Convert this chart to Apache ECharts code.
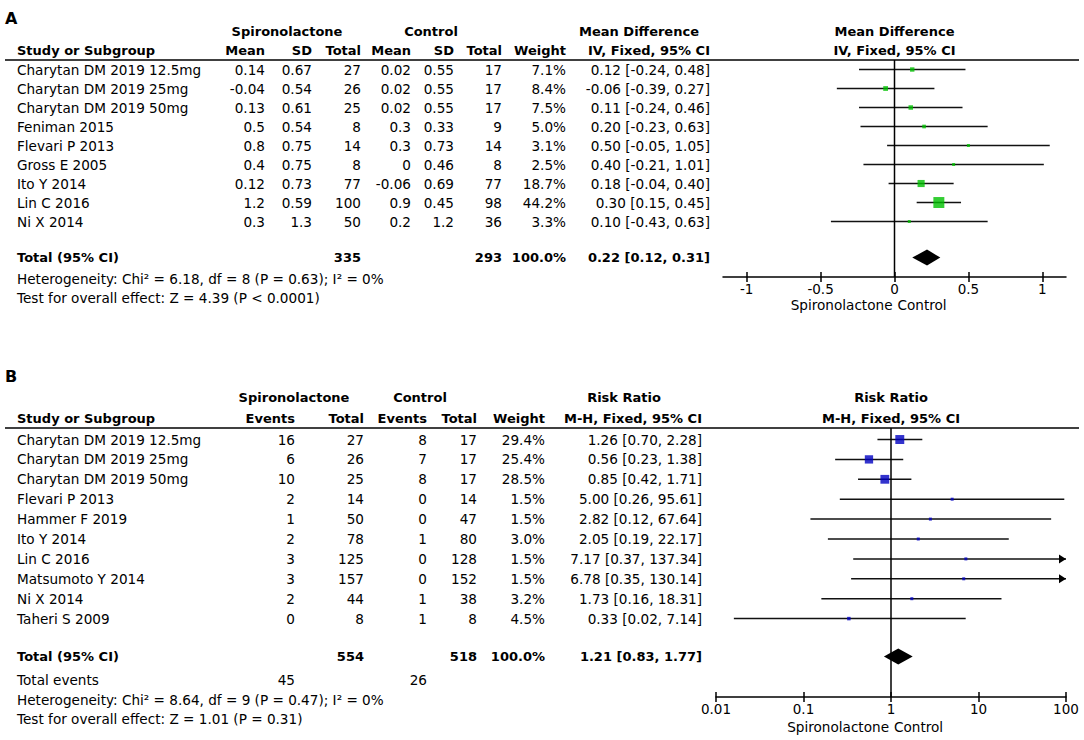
<!DOCTYPE html>
<html>
<head>
    <meta charset="utf-8" />
    <script src="https://cdn.jsdelivr.net/npm/echarts@6/dist/echarts.min.js"></script>
    <style type="text/css">
    html, body {
        margin: 0;
        padding: 0;
        background-color: #fff;
    }
    #chart {
        width: 1084px;
        height: 740px;
    }
    </style>
</head>
<body>
    <div id="chart"></div>
    <script type="text/javascript">
    // ---- panel A: mean difference ----
    let studiesA = ['Charytan DM 2019 12.5mg', 'Charytan DM 2019 25mg', 'Charytan DM 2019 50mg', 'Feniman 2015',
        'Flevari P 2013', 'Gross E 2005', 'Ito Y 2014', 'Lin C 2016', 'Ni X 2014'];
    let spMeanA = [0.14, -0.04, 0.13, 0.5, 0.8, 0.4, 0.12, 1.2, 0.3];
    let spSdA = [0.67, 0.54, 0.61, 0.54, 0.75, 0.75, 0.73, 0.59, 1.3];
    let spNA = [27, 26, 25, 8, 14, 8, 77, 100, 50];
    let ctMeanA = [0.02, 0.02, 0.02, 0.3, 0.3, 0, -0.06, 0.9, 0.2];
    let ctSdA = [0.55, 0.55, 0.55, 0.33, 0.73, 0.46, 0.69, 0.45, 1.2];
    let ctNA = [17, 17, 17, 9, 14, 8, 77, 98, 36];
    let weightA = [7.1, 8.4, 7.5, 5.0, 3.1, 2.5, 18.7, 44.2, 3.3];
    let mdA = [0.12, -0.06, 0.11, 0.20, 0.50, 0.40, 0.18, 0.30, 0.10];
    let loA = [-0.24, -0.39, -0.24, -0.23, -0.05, -0.21, -0.04, 0.15, -0.43];
    let hiA = [0.48, 0.27, 0.46, 0.63, 1.05, 1.01, 0.40, 0.45, 0.63];
    let totalA = [335, 293];
    let pooledA = [0.22, 0.12, 0.31];
    let ticksA = [-1, -0.5, 0, 0.5, 1];
    let hetA = 'Heterogeneity: Chi² = 6.18, df = 8 (P = 0.63); I² = 0%';
    let testA = 'Test for overall effect: Z = 4.39 (P < 0.0001)';

    // ---- panel B: risk ratio ----
    let studiesB = ['Charytan DM 2019 12.5mg', 'Charytan DM 2019 25mg', 'Charytan DM 2019 50mg', 'Flevari P 2013',
        'Hammer F 2019', 'Ito Y 2014', 'Lin C 2016', 'Matsumoto Y 2014', 'Ni X 2014', 'Taheri S 2009'];
    let spEvB = [16, 6, 10, 2, 1, 2, 3, 3, 2, 0];
    let spNB = [27, 26, 25, 14, 50, 78, 125, 157, 44, 8];
    let ctEvB = [8, 7, 8, 0, 0, 1, 0, 0, 1, 1];
    let ctNB = [17, 17, 17, 14, 47, 80, 128, 152, 38, 8];
    let weightB = [29.4, 25.4, 28.5, 1.5, 1.5, 3.0, 1.5, 1.5, 3.2, 4.5];
    let rrB = [1.26, 0.56, 0.85, 5.00, 2.82, 2.05, 7.17, 6.78, 1.73, 0.33];
    let loB = [0.70, 0.23, 0.42, 0.26, 0.12, 0.19, 0.37, 0.35, 0.16, 0.016];
    let hiB = [2.28, 1.38, 1.71, 95.61, 67.64, 22.17, 137.34, 130.14, 18.31, 7.14];
    let totalB = [554, 518];
    let eventsB = [45, 26];
    let pooledB = [1.21, 0.83, 1.77];
    let ticksB = [0.01, 0.1, 1, 10, 100];
    let hetB = 'Heterogeneity: Chi² = 8.64, df = 9 (P = 0.47); I² = 0%';
    let testB = 'Test for overall effect: Z = 1.01 (P = 0.31)';

    let FONT = '"DejaVu Sans", sans-serif';
    let xMaxA = 1.16, xMinA = -1.16;
    let xMaxB = 100, xMinB = 0.01;
    let totalRowA = studiesA.length + 0.9;
    let totalRowB = studiesB.length + 0.9;

    function fmtCI(e, l, h) {
        return e.toFixed(2) + ' [' + l.toFixed(2) + ', ' + h.toFixed(2) + ']';
    }
    function sqSize(w) {
        return Math.max(3, 1.65 * Math.sqrt(w));
    }

    // CI whiskers, clipped with arrow when beyond axis
    function ciRender(xmin, xmax) {
        return function (params, api) {
            let lo = api.value(0), hi = api.value(1), row = api.value(2);
            let p1 = api.coord([Math.max(lo, xmin), row]);
            let p2 = api.coord([Math.min(hi, xmax), row]);
            let children = [{
                type: 'line',
                shape: { x1: p1[0], y1: p1[1], x2: p2[0], y2: p2[1] },
                style: { stroke: '#111', lineWidth: 1.5 }
            }];
            if (hi > xmax) {
                children.push({
                    type: 'polygon',
                    shape: { points: [[p2[0], p2[1]], [p2[0] - 7, p2[1] - 4.5], [p2[0] - 7, p2[1] + 4.5]] },
                    style: { fill: '#000' }
                });
            }
            return { type: 'group', children: children };
        };
    }
    function diamondRender(params, api) {
        let row = api.value(3);
        let a = api.coord([api.value(0), row]);
        let m = api.coord([api.value(1), row]);
        let b = api.coord([api.value(2), row]);
        let h = 8;
        return {
            type: 'polygon',
            shape: { points: [[a[0], a[1]], [m[0], m[1] - h], [b[0], b[1]], [m[0], m[1] + h]] },
            style: { fill: '#000' }
        };
    }

    function tickFmt(v) {
        return String(Number(v.toPrecision(6)));
    }
    function mainAxis(grid, type, min, max, ticks) {
        let ax = {
            gridIndex: grid, type: type, min: min, max: max, position: 'bottom',
            axisLine: { show: true, onZero: false, lineStyle: { color: '#000', width: 1.5 } },
            axisTick: { show: true, length: 5, lineStyle: { color: '#000', width: 1.5 }, customValues: ticks },
            axisLabel: { show: true, color: '#000', fontSize: 13.5, fontFamily: FONT, margin: 5, customValues: ticks, formatter: tickFmt },
            splitLine: { show: false }
        };
        if (type === 'log') ax.logBase = 10;
        return ax;
    }
    function innerTickAxis(grid, type, min, max, ticks) {
        let ax = {
            gridIndex: grid, type: type, min: min, max: max, position: 'bottom', offset: 0,
            axisLine: { show: false, onZero: false },
            axisTick: { show: true, inside: true, length: 5, lineStyle: { color: '#000', width: 1.5 }, customValues: ticks },
            axisLabel: { show: false },
            splitLine: { show: false }
        };
        if (type === 'log') ax.logBase = 10;
        return ax;
    }

    let chart = echarts.init(document.getElementById('chart'), null, { renderer: 'svg' });

    let option = {
        animation: false,
        backgroundColor: '#fff',
        grid: [
            { left: 723, top: 60, width: 343, height: 217 },
            { left: 716, top: 428, width: 350, height: 269 }
        ],
        xAxis: [
            mainAxis(0, 'value', xMinA, xMaxA, ticksA),
            innerTickAxis(0, 'value', xMinA, xMaxA, ticksA),
            mainAxis(1, 'log', xMinB, xMaxB, ticksB),
            innerTickAxis(1, 'log', xMinB, xMaxB, ticksB)
        ],
        yAxis: [
            { gridIndex: 0, type: 'value', min: -0.5, max: 10.92, inverse: true, show: false },
            { gridIndex: 1, type: 'value', min: -0.578, max: 12.94, inverse: true, show: false }
        ],
        series: [
            {
                type: 'line', xAxisIndex: 0, yAxisIndex: 0, symbol: 'none', silent: true,
                lineStyle: { color: '#000', width: 1.5 },
                data: [[0, -0.5], [0, 10.92]]
            },
            {
                type: 'custom', xAxisIndex: 0, yAxisIndex: 0, silent: true, z: 3,
                renderItem: ciRender(xMinA, xMaxA),
                encode: { x: [0, 1], y: 2 },
                data: studiesA.map((s, i) => [loA[i], hiA[i], i])
            },
            {
                type: 'scatter', xAxisIndex: 0, yAxisIndex: 0, silent: true, z: 5,
                symbol: 'rect',
                symbolSize: v => sqSize(v[2]),
                itemStyle: { color: '#00c000' },
                data: studiesA.map((s, i) => [mdA[i], i, weightA[i]])
            },
            {
                type: 'custom', xAxisIndex: 0, yAxisIndex: 0, silent: true, z: 5,
                renderItem: diamondRender,
                encode: { x: [0, 1, 2], y: 3 },
                data: [[pooledA[1], pooledA[0], pooledA[2], totalRowA]]
            },
            {
                type: 'line', xAxisIndex: 2, yAxisIndex: 1, symbol: 'none', silent: true,
                lineStyle: { color: '#000', width: 1.5 },
                data: [[1, -0.578], [1, 12.94]]
            },
            {
                type: 'custom', xAxisIndex: 2, yAxisIndex: 1, silent: true, z: 3,
                renderItem: ciRender(xMinB, xMaxB),
                encode: { x: [0, 1], y: 2 },
                data: studiesB.map((s, i) => [loB[i], hiB[i], i])
            },
            {
                type: 'scatter', xAxisIndex: 2, yAxisIndex: 1, silent: true, z: 5,
                symbol: 'rect',
                symbolSize: v => sqSize(v[2]),
                itemStyle: { color: '#0000c0' },
                data: studiesB.map((s, i) => [rrB[i], i, weightB[i]])
            },
            {
                type: 'custom', xAxisIndex: 2, yAxisIndex: 1, silent: true, z: 5,
                renderItem: diamondRender,
                encode: { x: [0, 1, 2], y: 3 },
                data: [[pooledB[1], pooledB[0], pooledB[2], totalRowB]]
            }
        ]
    };
    chart.setOption(option);

    // ---- table text ----
    let els = [];
    function txt(s, x, y, align, bold, size) {
        els.push({
            type: 'text', x: x, y: y, silent: true,
            style: {
                text: String(s), fill: '#000',
                font: (bold ? 'bold ' : '') + (size || (bold ? 13 : 13.6)) + 'px ' + FONT,
                textAlign: align || 'left', textVerticalAlign: 'middle'
            }
        });
    }
    function rule(y) {
        els.push({
            type: 'line', silent: true,
            shape: { x1: 5, y1: y, x2: 1079, y2: y },
            style: { stroke: '#000', lineWidth: 1.5 }
        });
    }
    let rowA = i => chart.convertToPixel({ yAxisIndex: 0 }, i);
    let rowB = i => chart.convertToPixel({ yAxisIndex: 1 }, i);
    let zeroA = chart.convertToPixel({ xAxisIndex: 0 }, 0);
    let oneB = chart.convertToPixel({ xAxisIndex: 2 }, 1);

    // panel A
    txt('A', 5, 18, 'left', true, 16);
    txt('Spironolactone', 287, 31.5, 'center', true);
    txt('Control', 431, 31.5, 'center', true);
    txt('Mean Difference', 639, 31.5, 'center', true);
    txt('Mean Difference', 894.5, 31.5, 'center', true);
    txt('Study or Subgroup', 17, 50, 'left', true);
    let colA = [265, 312, 361, 411, 454, 502, 566, 710];
    ['Mean', 'SD', 'Total', 'Mean', 'SD', 'Total', 'Weight', 'IV, Fixed, 95% CI'].forEach((h, k) => txt(h, colA[k], 50, 'right', true));
    txt('IV, Fixed, 95% CI', 894.5, 50, 'center', true);
    rule(60);
    studiesA.forEach((s, i) => {
        let y = rowA(i);
        txt(s, 17, y);
        [spMeanA[i], spSdA[i], spNA[i], ctMeanA[i], ctSdA[i], ctNA[i], weightA[i].toFixed(1) + '%',
            fmtCI(mdA[i], loA[i], hiA[i])].forEach((v, k) => txt(v, colA[k], y, 'right'));
    });
    let yt = rowA(totalRowA);
    txt('Total (95% CI)', 17, yt, 'left', true);
    txt(totalA[0], colA[2], yt, 'right', true);
    txt(totalA[1], colA[5], yt, 'right', true);
    txt('100.0%', colA[6], yt, 'right', true);
    txt(fmtCI(pooledA[0], pooledA[1], pooledA[2]), colA[7], yt, 'right', true);
    txt(hetA, 17, 279);
    txt(testA, 17, 298);
    txt('Spironolactone', zeroA - 2, 305, 'right');
    txt('Control', zeroA + 3, 305, 'left');

    // panel B
    txt('B', 5, 376, 'left', true, 16);
    txt('Spironolactone', 294, 397, 'center', true);
    txt('Control', 420, 397, 'center', true);
    txt('Risk Ratio', 624, 397, 'center', true);
    txt('Risk Ratio', 891, 397, 'center', true);
    txt('Study or Subgroup', 17, 418, 'left', true);
    let colB = [295, 364, 427, 477, 545, 702];
    ['Events', 'Total', 'Events', 'Total', 'Weight', 'M-H, Fixed, 95% CI'].forEach((h, k) => txt(h, colB[k], 418, 'right', true));
    txt('M-H, Fixed, 95% CI', 891, 418, 'center', true);
    rule(428);
    studiesB.forEach((s, i) => {
        let y = rowB(i);
        txt(s, 17, y);
        [spEvB[i], spNB[i], ctEvB[i], ctNB[i], weightB[i].toFixed(1) + '%',
            fmtCI(rrB[i], loB[i], hiB[i])].forEach((v, k) => txt(v, colB[k], y, 'right'));
    });
    let ytb = rowB(totalRowB);
    txt('Total (95% CI)', 17, ytb, 'left', true);
    txt(totalB[0], colB[1], ytb, 'right', true);
    txt(totalB[1], colB[3], ytb, 'right', true);
    txt('100.0%', colB[4], ytb, 'right', true);
    txt(fmtCI(pooledB[0], pooledB[1], pooledB[2]), colB[5], ytb, 'right', true);
    txt('Total events', 17, 680);
    txt(eventsB[0], colB[0], 680, 'right');
    txt(eventsB[1], colB[2], 680, 'right');
    txt(hetB, 17, 700);
    txt(testB, 17, 719);
    txt('Spironolactone', oneB - 2, 727, 'right');
    txt('Control', oneB + 3, 727, 'left');

    chart.setOption({ graphic: { elements: els } });
    </script>
</body>
</html>
